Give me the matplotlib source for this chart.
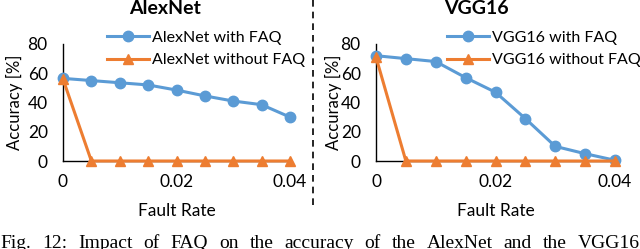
import matplotlib
matplotlib.use("Agg")
import matplotlib.pyplot as plt

fault_rate = [0, 0.005, 0.01, 0.015, 0.02, 0.025, 0.03, 0.035, 0.04]
alex_with = [56.5, 55, 53.5, 52, 48.5, 44.5, 41, 38.5, 30]
alex_without = [56, 0, 0, 0, 0, 0, 0, 0, 0]
vgg_with = [72, 70, 68, 57, 47, 29, 10, 5, 0.5]
vgg_without = [71, 0, 0, 0, 0, 0, 0, 0, 0]
titles = ["AlexNet", "VGG16"]
xticks = [0, 0.02, 0.04]
xtick_labels = ["0", "0.02", "0.04"]
yticks = [0, 20, 40, 60, 80]
caption = "Fig. 12: Impact of FAQ on the accuracy of the AlexNet and the VGG16"

BLUE = "#5B9BD5"
ORANGE = "#ED7D31"
FONT = "Lato"
plt.rcParams['font.family'] = [FONT, 'DejaVu Sans']

W, H = 640, 249
fig = plt.figure(figsize=(W / 100, H / 100), dpi=100)

def px_axes(x0, x1, ytop, ybot):
    return fig.add_axes([x0 / W, 1 - ybot / H, (x1 - x0) / W, (ybot - ytop) / H])

panels = [
    (63, 290, titles[0], alex_with, alex_without, 107, 23, 165),
    (376, 615, titles[1], vgg_with, vgg_without, 447, 342, 476),
]
for (x0, x1, name, w, wo, legx, ylx, tx) in panels:
    ax = px_axes(x0, x1, 44, 161)
    ax.plot(fault_rate, w, color=BLUE, lw=2.2, marker='o', ms=7.5, clip_on=False,
            label=f"{name} with FAQ", zorder=3)
    ax.plot(fault_rate, wo, color=ORANGE, lw=2.2, marker='^', ms=7.5, clip_on=False,
            label=f"{name} without FAQ", zorder=4)
    ax.set_xlim(0, 0.04)
    ax.set_ylim(0, 80)
    ax.set_xticks(xticks)
    ax.set_xticklabels(xtick_labels)
    ax.set_yticks(yticks)
    ax.tick_params(length=0, labelsize=12.5, colors='black')
    ax.tick_params(axis='x', pad=9)
    ax.tick_params(axis='y', pad=11)
    for s in ['top', 'right']:
        ax.spines[s].set_visible(False)
    for s in ['left', 'bottom']:
        ax.spines[s].set_linewidth(1.0)
        ax.spines[s].set_color('black')
    ax.set_facecolor('none')
    ax.set_ylabel("Accuracy [%]", fontsize=12)
    ax.yaxis.set_label_coords((ylx - x0) / (x1 - x0), 0.5)
    fig.text(tx / W, 1 - 9 / H, name, ha='center', va='center', fontsize=14, fontweight='bold')
    fig.text((x0 + x1) / 2 / W, 1 - 211 / H, "Fault Rate", ha='center', va='center', fontsize=12.5)
    ax.legend(loc='center left', bbox_to_anchor=(legx / W, 1 - 49 / H),
              bbox_transform=fig.transFigure, frameon=False, fontsize=11.5,
              handlelength=2.6, handletextpad=0.2, labelspacing=0.5,
              borderaxespad=0, borderpad=0)

fig.add_artist(plt.Line2D([313 / W, 313 / W], [1 - 0 / H, 1 - 206 / H], color='black',
                          lw=1.2, ls=(0, (4, 3)), transform=fig.transFigure))

# justified caption, words spread across the full width
words = caption.split(" ")
cap_y = 1 - 248 / H
texts = [fig.text(0, cap_y, wd, ha='left', va='baseline', fontsize=14,
                  family='Liberation Serif') for wd in words]
fig.canvas.draw()
r = fig.canvas.get_renderer()
widths = [t.get_window_extent(r).width for t in texts]
gap = (W - 1 - sum(widths)) / (len(words) - 1)
x = 0.5
for t, wdt in zip(texts, widths):
    t.set_x(x / W)
    x += wdt + gap

fig.savefig("out.png", dpi=100)
